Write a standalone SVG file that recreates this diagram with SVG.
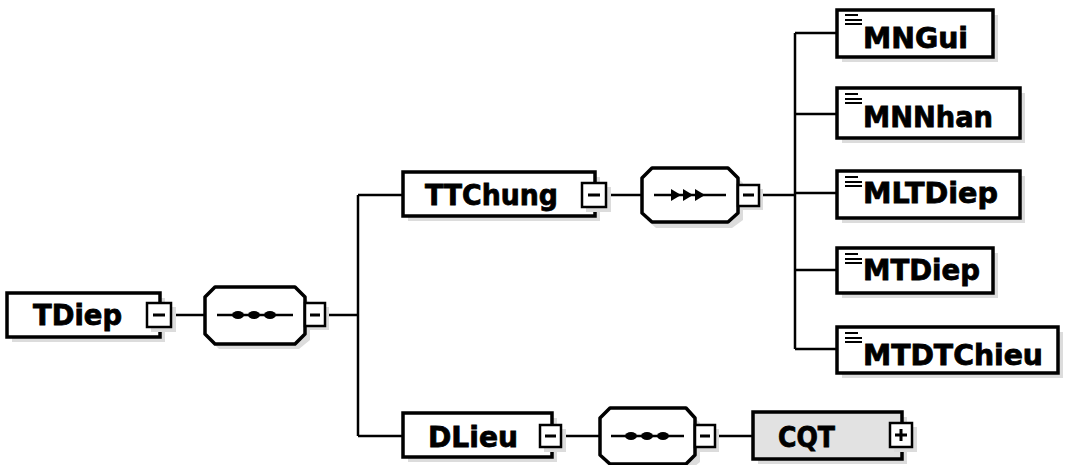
<svg xmlns="http://www.w3.org/2000/svg" width="1065" height="465" viewBox="0 0 1065 465">
<style>
.box{fill:#fff;stroke:#000;stroke-width:3.5}
.cbox{fill:#e2e2e2;stroke:#000;stroke-width:3.5}
.sh{fill:#dcdcdc;stroke:none}
.btn{fill:#fff;stroke:#000;stroke-width:2.5}
.mark{stroke:#000;stroke-width:3;fill:none}
.lbl{font-family:"DejaVu Sans",Verdana,sans-serif;font-weight:bold;font-size:28px;fill:#000;stroke:#000;stroke-width:0.8}
.con{stroke:#000;stroke-width:2.5;fill:none}
.seqline{stroke:#000;stroke-width:2.5}
.dot{fill:#000}
.ico{stroke:#000;stroke-width:2}
</style>
<g id="connectors">
<path class="con" d="M172 315H205"/>
<path class="con" d="M325 315H358"/>
<path class="con" d="M358 195V436" stroke-width="3"/>
<path class="con" d="M358 195H403M358 436H403"/>
<path class="con" d="M608 195H642"/>
<path class="con" d="M763 195H795"/>
<path class="con" d="M795 33V349" stroke-width="3"/>
<path class="con" d="M795 33H837M795 114H837M795 193H837M795 270H837M795 349H837"/>
<path class="con" d="M560 436H600"/>
<path class="con" d="M715 436H753"/>
</g>
<g id="TDiep">
<rect class="sh" x="12" y="298" width="153" height="44"/>
<rect class="box" x="7" y="293" width="153" height="44"/>
<text class="lbl" x="33" y="325" textLength="89" lengthAdjust="spacingAndGlyphs">TDiep</text>
<rect class="sh" x="151" y="307" width="25" height="25"/>
<rect class="btn" x="147" y="303" width="24" height="24"/>
<path class="mark" d="M153 315H165"/>
</g>
<g id="seq1">
<path class="sh" d="M219 292H299L310 303V340L299 349H219L210 340V303Z"/>
<path class="box" d="M215 287H295L305 297V334L295 344H215L205 334V297Z" stroke-linejoin="round"/>
<path class="seqline" d="M217 315H293"/>
<ellipse class="dot" cx="238" cy="315" rx="6" ry="4"/>
<ellipse class="dot" cx="254" cy="315" rx="6" ry="4"/>
<ellipse class="dot" cx="270" cy="315" rx="6" ry="4"/>
<rect class="sh" x="309" y="307" width="20" height="23"/>
<rect class="btn" x="305" y="303" width="20" height="23"/>
<path class="mark" d="M310 315H320"/>
</g>
<g id="TTChung">
<rect class="sh" x="408" y="177" width="192" height="44"/>
<rect class="box" x="403" y="172" width="192" height="44"/>
<text class="lbl" x="425" y="205" textLength="133" lengthAdjust="spacingAndGlyphs">TTChung</text>
<rect class="sh" x="586" y="187" width="25" height="25"/>
<rect class="btn" x="582" y="183" width="24" height="24"/>
<path class="mark" d="M588 195H600"/>
</g>
<g id="seq2">
<path class="sh" d="M656 173H732L743 183V220L732 228H656L647 220V183Z"/>
<path class="box" d="M652 168H728L738 178V213L728 222H652L642 213V178Z" stroke-linejoin="round"/>
<path class="seqline" d="M654 195H726"/>
<path class="dot" d="M671 189L681 195L671 201Z"/>
<path class="dot" d="M683 189L693 195L683 201Z"/>
<path class="dot" d="M695 189L705 195L695 201Z"/>
<rect class="sh" x="742" y="189" width="21" height="21"/>
<rect class="btn" x="738" y="185" width="21" height="21"/>
<path class="mark" d="M743 195H754"/>
</g>
<g id="DLieu">
<rect class="sh" x="408" y="418" width="149" height="44"/>
<rect class="box" x="403" y="413" width="149" height="44"/>
<text class="lbl" x="428" y="447" textLength="90" lengthAdjust="spacingAndGlyphs">DLieu</text>
<rect class="sh" x="544" y="429" width="22" height="23"/>
<rect class="btn" x="540" y="425" width="21" height="22"/>
<path class="mark" d="M545 436H556"/>
</g>
<g id="seq3">
<path class="sh" d="M614 413H690L700 423V462L690 470H614L605 462V423Z"/>
<path class="box" d="M610 408H686L695 418V455L686 464H610L600 455V418Z" stroke-linejoin="round"/>
<path class="seqline" d="M611 436H684"/>
<ellipse class="dot" cx="631" cy="436" rx="6" ry="4"/>
<ellipse class="dot" cx="647" cy="436" rx="6" ry="4"/>
<ellipse class="dot" cx="663" cy="436" rx="6" ry="4"/>
<rect class="sh" x="699" y="429" width="20" height="23"/>
<rect class="btn" x="695" y="425" width="20" height="22"/>
<path class="mark" d="M700 436H710"/>
</g>
<g id="CQT">
<rect class="sh" x="758" y="417" width="149" height="47"/>
<rect class="cbox" x="753" y="412" width="149" height="47"/>
<text class="lbl" x="778" y="447" textLength="57" lengthAdjust="spacingAndGlyphs">CQT</text>
<rect class="sh" x="894" y="427" width="23" height="25"/>
<rect class="btn" x="890" y="423" width="22" height="24"/>
<path class="mark" d="M895 435H907M901 429V441"/>
</g>
<g id="MNGui">
<rect class="sh" x="842" y="15" width="156" height="47"/>
<rect class="box" x="837" y="10" width="156" height="47"/>
<path class="ico" d="M845 15H858M845 20H862M845 24H862"/>
<text class="lbl" x="863" y="48" textLength="105" lengthAdjust="spacingAndGlyphs">MNGui</text>
</g>
<g id="MNNhan">
<rect class="sh" x="842" y="93" width="183" height="50"/>
<rect class="box" x="837" y="88" width="183" height="50"/>
<path class="ico" d="M845 94H858M845 99H862M845 103H862"/>
<text class="lbl" x="863" y="127" textLength="130" lengthAdjust="spacingAndGlyphs">MNNhan</text>
</g>
<g id="MLTDiep">
<rect class="sh" x="842" y="176" width="183" height="47"/>
<rect class="box" x="837" y="171" width="183" height="47"/>
<path class="ico" d="M845 177H858M845 182H862M845 186H862"/>
<text class="lbl" x="863" y="203" textLength="135" lengthAdjust="spacingAndGlyphs">MLTDiep</text>
</g>
<g id="MTDiep">
<rect class="sh" x="842" y="253" width="156" height="45"/>
<rect class="box" x="837" y="248" width="156" height="45"/>
<path class="ico" d="M845 254H858M845 259H862M845 263H862"/>
<text class="lbl" x="863" y="280" textLength="117" lengthAdjust="spacingAndGlyphs">MTDiep</text>
</g>
<g id="MTDTChieu">
<rect class="sh" x="842" y="332" width="221" height="46"/>
<rect class="box" x="837" y="327" width="221" height="46"/>
<path class="ico" d="M845 333H858M845 338H862M845 342H862"/>
<text class="lbl" x="863" y="365" textLength="180" lengthAdjust="spacingAndGlyphs">MTDTChieu</text>
</g>
</svg>
